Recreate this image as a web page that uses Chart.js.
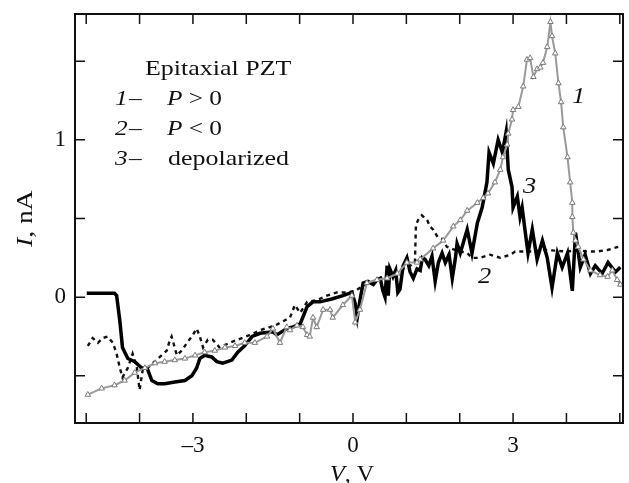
<!DOCTYPE html>
<html>
<head>
<meta charset="utf-8">
<script src="https://cdn.jsdelivr.net/npm/chart.js@4.4.1/dist/chart.umd.min.js"></script>
<style>
  body { margin: 0; background: #fff; }
  #wrap { width: 629px; height: 483px; }
</style>
</head>
<body>
<div id="wrap"><canvas id="ivChart" width="629" height="483"></canvas></div>
<script>
// curve 1: P > 0 (grey, open triangles)
var v1 = [-4.97,-4.71,-4.47,-4.28,-4.09,-3.90,-3.71,-3.53,-3.34,-3.15,-2.96,-2.78,-2.59,-2.40,-2.21,
  -2.03,-1.84,-1.61,-1.50,-1.37,-1.24,-1.18,-1.05,-0.94,-0.86,-0.81,-0.75,-0.68,-0.56,-0.43,
  -0.38,-0.19,-0.02,0.04,0.13,0.26,0.45,0.64,0.83,1.01,1.20,1.26,1.50,1.69,1.88,
  2.01,2.14,2.33,2.44,2.53,2.66,2.76,2.81,2.89,2.91,2.98,3.00,3.10,3.19,3.26,
  3.32,3.38,3.45,3.51,3.56,3.64,3.70,3.73,3.79,3.85,3.90,3.94,4.02,4.07,4.11,
  4.11,4.13,4.17,4.22,4.32,4.45,4.63,4.77,4.86,4.95,5.01];
var i1 = [-0.62,-0.58,-0.56,-0.53,-0.48,-0.45,-0.42,-0.41,-0.40,-0.39,-0.37,-0.35,-0.34,-0.32,-0.31,
  -0.29,-0.29,-0.25,-0.20,-0.29,-0.19,-0.21,-0.18,-0.19,-0.24,-0.25,-0.13,-0.19,-0.08,-0.08,
  -0.13,-0.05,0.01,-0.16,-0.08,0.09,0.11,0.12,0.15,0.22,0.22,0.24,0.31,0.36,0.45,
  0.49,0.55,0.60,0.63,0.66,0.73,0.81,0.89,0.97,1.04,1.13,1.19,1.21,1.34,1.51,
  1.52,1.40,1.45,1.46,1.49,1.59,1.75,1.66,1.55,1.36,1.24,1.08,0.89,0.73,0.60,
  0.51,0.41,0.36,0.32,0.24,0.17,0.14,0.13,0.17,0.11,0.08];

// curve 2: P < 0 (dashed)
var v2 = [-4.97,-4.88,-4.78,-4.69,-4.60,-4.50,-4.43,-4.37,-4.32,-4.22,-4.13,-4.05,-4.00,-3.94,-3.85,
  -3.49,-3.43,-3.40,-3.30,-3.21,-3.11,-3.02,-2.93,-2.87,-2.81,-2.72,-2.63,-2.50,-2.31,-1.93,
  -1.74,-1.46,-1.18,-1.09,-0.99,-0.86,-0.68,-0.49,-0.30,-0.11,0.04,
  0.23,0.51,0.79,1.07,1.16,1.18,1.22,1.29,1.39,1.44,1.50,1.59,1.67,1.76,1.91,
  2.14,2.23,2.38,2.57,2.76,2.95,3.04,3.32,3.60,4.02,4.20,4.39,4.58,4.77,4.97];
var i2 = [-0.31,-0.26,-0.29,-0.26,-0.25,-0.29,-0.36,-0.45,-0.51,-0.45,-0.36,-0.45,-0.59,-0.46,-0.45,
  -0.34,-0.27,-0.25,-0.37,-0.34,-0.29,-0.25,-0.20,-0.25,-0.32,-0.27,-0.27,-0.32,-0.29,-0.24,
  -0.21,-0.18,-0.13,-0.05,-0.10,-0.03,-0.02,0.01,0.03,0.03,0.04,
  0.08,0.12,0.16,0.20,0.22,0.46,0.49,0.52,0.49,0.45,0.43,0.38,0.37,0.32,0.30,
  0.28,0.25,0.25,0.27,0.25,0.27,0.29,0.29,0.30,0.29,0.30,0.29,0.29,0.30,0.32];

// curve 3: depolarized (thick solid)
var v3 = [-4.99,-4.47,-4.43,-4.37,-4.32,-4.22,-4.09,-3.96,-3.86,-3.77,-3.66,-3.53,-3.34,-3.15,-3.02,
  -2.93,-2.87,-2.78,-2.65,-2.55,-2.44,-2.27,-2.16,-2.03,-1.89,-1.74,-1.50,-1.43,-1.24,-1.13,
  -0.99,-0.86,-0.75,-0.62,-0.38,-0.19,-0.02,0.04,0.08,
  0.13,0.19,0.28,0.38,0.45,0.51,0.56,0.60,0.64,0.66,0.69,0.75,0.80,0.84,0.88,0.94,
  1.01,1.07,1.13,1.20,1.26,1.30,1.35,1.42,1.48,1.54,1.60,1.67,1.73,1.80,1.86,1.92,1.95,2.01,
  2.14,2.23,2.33,2.42,2.51,2.55,
  2.63,2.72,2.80,2.87,2.91,2.98,3.00,3.08,3.13,3.17,3.23,3.28,3.36,3.45,3.55,
  3.64,3.73,3.83,3.92,4.02,4.11,4.17,4.26,4.35,4.45,4.54,4.67,4.78,4.92,5.01];
var i3 = [0.025,0.025,0.01,-0.15,-0.32,-0.39,-0.41,-0.45,-0.45,-0.53,-0.55,-0.55,-0.54,-0.53,-0.50,
  -0.45,-0.39,-0.37,-0.38,-0.41,-0.42,-0.40,-0.35,-0.31,-0.25,-0.23,-0.22,-0.24,-0.20,-0.19,
  -0.17,-0.06,-0.03,-0.03,-0.01,0.01,0.03,-0.04,-0.13,
  -0.02,0.09,0.10,0.08,0.11,0.12,0.04,0.00,0.20,0.01,0.18,0.13,0.17,0.03,0.05,0.20,
  0.25,0.16,0.12,0.18,0.17,0.25,0.24,0.20,0.26,0.10,0.22,0.28,0.22,0.27,0.12,0.25,0.34,0.28,
  0.43,0.28,0.47,0.57,0.73,0.92,
  0.85,1.00,0.92,1.05,0.81,0.70,0.57,0.64,0.51,0.57,0.41,0.28,0.43,0.24,0.36,
  0.25,0.06,0.28,0.19,0.28,0.04,0.41,0.19,0.27,0.15,0.20,0.15,0.22,0.16,0.19];

var xTicks = [-5,-4,-3,-2,-1,0,1,2,3,4,5];
var xLabels = [-3,0,3];
var yTicks = [-0.5,0,0.5,1,1.5];
var yLabels = [0,1];

var SERIF = "'Liberation Serif', serif";

function pts(xs, ys) {
  return xs.map(function (x, k) { return {x: x, y: ys[k]}; });
}

// draw a run of text pieces, some italic, stretched a little sideways
function pieces(ctx, list, x, y, size, sx) {
  ctx.save();
  ctx.translate(x, y);
  ctx.scale(sx, 1);
  var cx = 0;
  list.forEach(function (p) {
    ctx.font = (p[1] ? 'italic ' : '') + size + 'px ' + SERIF;
    ctx.fillText(p[0], cx, 0);
    cx += ctx.measureText(p[0]).width;
  });
  ctx.restore();
}

var framePlugin = {
  id: 'frame',
  afterDraw: function (chart) {
    var ctx = chart.ctx, a = chart.chartArea;
    var xs = chart.scales.x, ys = chart.scales.y;
    ctx.save();
    ctx.strokeStyle = '#111';
    ctx.lineWidth = 2;
    ctx.strokeRect(a.left, a.top, a.right - a.left, a.bottom - a.top);

    // inward ticks on all four sides
    ctx.lineWidth = 1.5;
    ctx.beginPath();
    xTicks.forEach(function (v) {
      var px = xs.getPixelForValue(v);
      ctx.moveTo(px, a.bottom); ctx.lineTo(px, a.bottom - 10);
      ctx.moveTo(px, a.top); ctx.lineTo(px, a.top + 10);
    });
    yTicks.forEach(function (v) {
      var py = ys.getPixelForValue(v);
      ctx.moveTo(a.left, py); ctx.lineTo(a.left + 10, py);
      ctx.moveTo(a.right, py); ctx.lineTo(a.right - 10, py);
    });
    ctx.stroke();

    ctx.fillStyle = '#111';
    ctx.textBaseline = 'alphabetic';
    ctx.textAlign = 'left';
    var sx = 1.15;

    // legend block
    pieces(ctx, [['Epitaxial PZT', false]], 145, 75, 22, 1.18);
    pieces(ctx, [['1', true]], 115, 105, 22, sx);
    pieces(ctx, [['2', true]], 115, 135, 22, sx);
    pieces(ctx, [['3', true]], 115, 165, 22, sx);
    pieces(ctx, [['\u2013', false]], 129, 105, 22, sx);
    pieces(ctx, [['\u2013', false]], 129, 135, 22, sx);
    pieces(ctx, [['\u2013', false]], 129, 165, 22, sx);
    pieces(ctx, [['P', true], [' > 0', false]], 167, 105, 22, sx);
    pieces(ctx, [['P', true], [' < 0', false]], 167, 135, 22, sx);
    pieces(ctx, [['depolarized', false]], 168, 165, 22, 1.18);

    // curve numbers
    pieces(ctx, [['1', true]], 572, 103, 23, sx);
    pieces(ctx, [['3', true]], 523, 193, 23, sx);
    pieces(ctx, [['2', true]], 478, 283, 23, sx);

    // axis titles
    pieces(ctx, [['V', true], [', V', false]], 330, 481, 23, 1.05);
    ctx.save();
    ctx.translate(32, 247);
    ctx.rotate(-Math.PI / 2);
    pieces(ctx, [['I', true], [', nA', false]], 0, 0, 23, 1.2);
    ctx.restore();

    ctx.restore();
  }
};

var ctx = document.getElementById('ivChart').getContext('2d');
var ivChart = new Chart(ctx, {
  type: 'scatter',
  data: {
    datasets: [{
      label: 'P > 0',
      data: pts(v1, i1),
      showLine: true,
      borderColor: '#9a9a9a',
      borderWidth: 2,
      pointStyle: 'triangle',
      pointRadius: 3.2,
      pointBorderColor: '#7a7a7a',
      pointBorderWidth: 1,
      pointBackgroundColor: '#fff'
    }, {
      label: 'depolarized',
      data: pts(v3, i3),
      showLine: true,
      borderColor: '#000',
      borderWidth: 3.5,
      pointRadius: 0
    }, {
      label: 'P < 0',
      data: pts(v2, i2),
      showLine: true,
      borderColor: '#111',
      borderWidth: 2.4,
      borderDash: [4, 4],
      pointRadius: 0
    }]
  },
  options: {
    responsive: false,
    animation: false,
    layout: { padding: { top: 14, right: 6, left: 0, bottom: 0 } },
    plugins: { legend: { display: false }, tooltip: { enabled: false } },
    elements: { line: { tension: 0 } },
    scales: {
      x: {
        type: 'linear',
        min: -5.21,
        max: 5.06,
        grid: { display: false, drawTicks: false },
        border: { display: false },
        afterBuildTicks: function (s) { s.ticks = xTicks.map(function (v) { return {value: v}; }); },
        afterFit: function (s) { s.height = 60; s.paddingLeft = 0; s.paddingRight = 0; },
        ticks: {
          autoSkip: false,
          maxRotation: 0,
          padding: 9,
          color: '#111',
          font: { family: SERIF, size: 23 },
          callback: function (v) {
            if (xLabels.indexOf(v) < 0) return '';
            return v < 0 ? '\u2013' + Math.abs(v) : String(v);
          }
        }
      },
      y: {
        type: 'linear',
        min: -0.8,
        max: 1.8,
        grid: { display: false, drawTicks: false },
        border: { display: false },
        afterBuildTicks: function (s) { s.ticks = yTicks.map(function (v) { return {value: v}; }); },
        afterFit: function (s) { s.width = 75; s.paddingTop = 0; s.paddingBottom = 0; },
        ticks: {
          autoSkip: false,
          padding: 9,
          color: '#111',
          font: { family: SERIF, size: 23 },
          callback: function (v) { return yLabels.indexOf(v) < 0 ? '' : String(v); }
        }
      }
    }
  },
  plugins: [framePlugin]
});
</script>
</body>
</html>
